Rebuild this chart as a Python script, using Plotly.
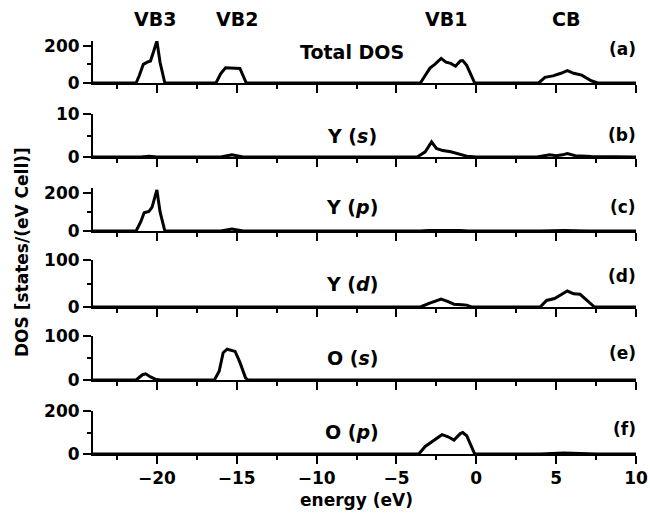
import plotly.graph_objects as go

# ---------------- data ----------------
e_total = [-24, -21.3, -21.1, -20.85, -20.6, -20.4, -20.2, -20.0, -19.8, -19.5,
           -16.3, -16.0, -15.7, -15.2, -14.8, -14.4,
           -3.5, -3.2, -2.9, -2.6, -2.2, -1.9, -1.6, -1.3, -1.0, -0.85, -0.6, -0.1,
           3.9, 4.3, 4.8, 5.3, 5.7, 6.1, 6.6, 7.2, 7.6, 10]
dos_total = [0, 0, 40, 100, 112, 118, 170, 225, 110, 0,
             0, 50, 82, 82, 78, 0,
             0, 40, 80, 100, 132, 112, 105, 90, 118, 120, 95, 0,
             0, 30, 38, 52, 66, 52, 42, 12, 0, 0]

e_ys = [-24, -21, -20.5, -20, -16, -15.3, -14.6, -3.7, -3.2, -2.8, -2.5, -2.1,
        -1.6, -1.1, -0.6, 0, 3.8, 4.6, 5.0, 5.4, 5.7, 6.2, 7.2, 10]
dos_ys = [0, 0, 0.2, 0, 0, 0.5, 0, 0, 1.2, 3.5, 2.0, 1.5,
          1.2, 0.7, 0.2, 0, 0, 0.5, 0.3, 0.5, 0.8, 0.3, 0.1, 0]

e_yp = [-24, -21.3, -21.0, -20.8, -20.5, -20.3, -20.0, -19.8, -19.5,
        -16, -15.3, -14.6, -3.5, -3, -1, -0.5, 4, 5.5, 7, 10]
dos_yp = [0, 0, 50, 95, 102, 125, 215, 100, 0,
          0, 10, 0, 0, 3, 3, 0, 0, 2, 0, 0]

e_yd = [-24, -16, -15.3, -14.6, -3.5, -3.0, -2.6, -2.2, -1.8, -1.4, -0.9, -0.6, -0.3,
        4.0, 4.4, 4.9, 5.3, 5.7, 6.1, 6.5, 7.0, 7.4, 10]
dos_yd = [0, 0, 1.5, 0, 0, 7, 12, 17, 12, 6, 5, 4, 0,
          0, 14, 18, 26, 34, 28, 27, 12, 0, 0]

e_os = [-24, -21.3, -20.9, -20.7, -20.4, -20.1, -19.8,
        -16.4, -16.1, -15.85, -15.6, -15.1, -14.8, -14.45, -14.3,
        5.3, 5.7, 6.1, 10]
dos_os = [0, 0, 12, 14, 7, 2, 0,
          0, 20, 62, 70, 65, 40, 5, 0,
          0, 1, 0, 0]

e_op = [-24, -21, -20.5, -20, -3.6, -3.2, -2.8, -2.5, -2.15, -1.76, -1.4, -1.0,
        -0.85, -0.6, -0.1, 4, 5.5, 7.5, 10]
dos_op = [0, 0, 3, 0, 0, 35, 55, 70, 90, 80, 65, 95,
          100, 85, 0, 0, 5, 0, 0]

panel_labels = ["Total DOS", "Y (<i>s</i>)", "Y (<i>p</i>)", "Y (<i>d</i>)",
                "O (<i>s</i>)", "O (<i>p</i>)"]
panel_tags = ["(a)", "(b)", "(c)", "(d)", "(e)", "(f)"]
band_names = ["VB3", "VB2", "VB1", "CB"]
band_pos = [-20.1, -15.0, -1.9, 5.6]

series = [(e_total, dos_total), (e_ys, dos_ys), (e_yp, dos_yp),
          (e_yd, dos_yd), (e_os, dos_os), (e_op, dos_op)]
y_ranges = [[0, 225], [0, 10], [0, 225], [0, 100], [0, 100], [0, 200]]
y_dticks = [200, 10, 200, 100, 100, 200]

# ---------------- layout geometry (page pixels; body margin removed) ----------------
W, H = 650, 516
LEFT, RIGHT, TOP, BOTTOM = 93, 636, 41, 454   # page pixels of plot area
ML, MR, MT, MB = LEFT, W - RIGHT, TOP, H - BOTTOM
plot_h = BOTTOM - TOP
plot_w = RIGHT - LEFT
base_px = [83, 157, 231, 307, 380, 454]
top_px = [41, 114, 188, 260, 336, 411]
label_py = [52, 136, 207, 284, 358, 432]
tag_py = [49, 135, 207, 276, 353, 429]


def fy(py):
    return (BOTTOM - py) / plot_h


def fx(px):
    return (px - LEFT) / plot_w


FONT = "DejaVu Sans"
fig = go.Figure()

for i, (xs, ys) in enumerate(series):
    n = "" if i == 0 else str(i + 1)
    fig.add_trace(go.Scatter(x=xs, y=ys, mode="lines",
                             line=dict(color="black", width=3),
                             xaxis="x" + n, yaxis="y" + n,
                             showlegend=False, hoverinfo="skip"))
    fig.layout["xaxis" + n] = dict(
        domain=[0, 1], anchor="y" + n, range=[-24, 10], automargin=False,
        showline=True, linecolor="black", linewidth=2,
        ticks="outside", ticklen=8, tickwidth=1.5, tickcolor="black",
        tickmode="linear", tick0=0, dtick=5,
        minor=dict(ticks="outside", ticklen=4, tickwidth=1.5, tickcolor="black",
                   tick0=0, dtick=2.5, showgrid=False),
        showgrid=False, zeroline=False, showticklabels=(i == 5),
        ticklabeloverflow="allow",
        tickfont=dict(family=FONT, size=17, color="black", weight="bold"),
    )
    fig.layout["yaxis" + n] = dict(
        domain=[fy(base_px[i]), fy(top_px[i])], anchor="x" + n,
        range=y_ranges[i], automargin=False,
        showline=True, linecolor="black", linewidth=2,
        ticks="outside", ticklen=8, tickwidth=1.5, tickcolor="black",
        tickmode="linear", tick0=0, dtick=y_dticks[i],
        minor=dict(ticks="outside", ticklen=4, tickwidth=1.5, tickcolor="black",
                   tick0=0, dtick=y_dticks[i] / 2, showgrid=False),
        showgrid=False, zeroline=False,
        tickfont=dict(family=FONT, size=17, color="black", weight="bold"),
    )

annotations = []
for i in range(6):
    annotations.append(dict(
        x=fx(352), y=fy(label_py[i]), xref="paper", yref="paper",
        text=panel_labels[i], showarrow=False, xanchor="center", yanchor="middle",
        font=dict(family=FONT, size=19, color="black", weight="bold")))
    annotations.append(dict(
        x=fx(638), y=fy(tag_py[i]), xref="paper", yref="paper",
        text=panel_tags[i], showarrow=False, xanchor="right", yanchor="middle",
        font=dict(family=FONT, size=17, color="black", weight="bold")))
for name, pos in zip(band_names, band_pos):
    annotations.append(dict(
        x=pos, y=fy(19), xref="x", yref="paper", text=name, showarrow=False,
        xanchor="center", yanchor="middle",
        font=dict(family=FONT, size=19, color="black", weight="bold")))
annotations.append(dict(
    x=fx(356), y=fy(500), xref="paper", yref="paper",
    text="energy (eV)", showarrow=False, xanchor="center", yanchor="middle",
    font=dict(family=FONT, size=17, color="black", weight="bold")))
annotations.append(dict(
    x=fx(22), y=fy(252), xref="paper", yref="paper",
    text="DOS [states/(eV Cell)]", showarrow=False, textangle=-90,
    xanchor="center", yanchor="middle",
    font=dict(family=FONT, size=17, color="black", weight="bold")))

fig.update_layout(
    width=W, height=H, autosize=False,
    margin=dict(l=ML, r=MR, t=MT, b=MB, pad=0, autoexpand=False),
    paper_bgcolor="white", plot_bgcolor="white",
    annotations=annotations,
    showlegend=False,
)

fig.write_html("out.html", config={"responsive": False, "displayModeBar": False},
               post_script="document.body.style.margin='0';document.body.style.overflow='hidden';")
